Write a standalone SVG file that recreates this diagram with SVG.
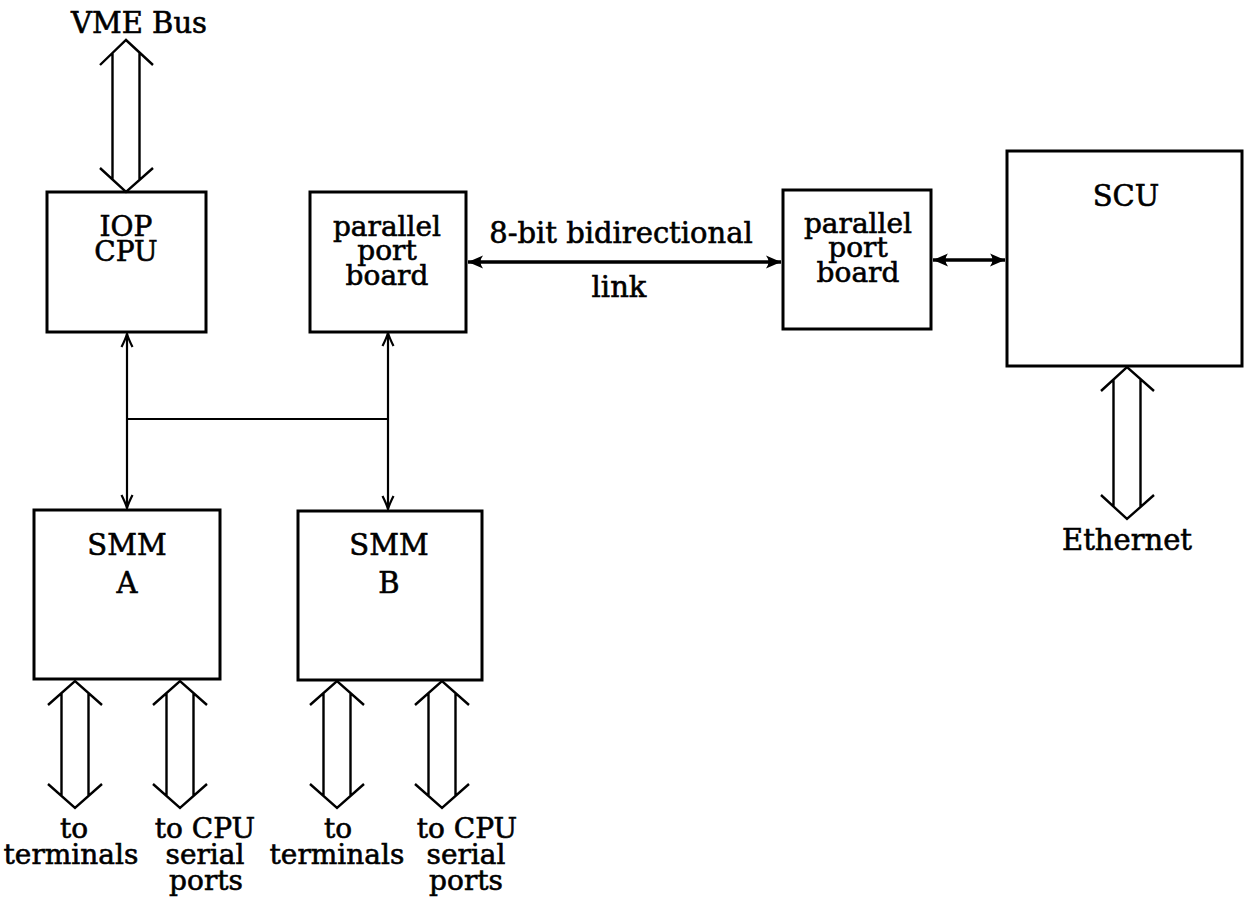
<svg xmlns="http://www.w3.org/2000/svg" width="1245" height="897" viewBox="0 0 1245 897">
<style>
text{font-family:"DejaVu Serif","Liberation Serif",serif;font-size:29px;fill:#000;stroke:#000;stroke-width:0.6;text-anchor:middle}
.sm{font-size:28px}
.box{fill:none;stroke:#000;stroke-width:3}
.fat{fill:none;stroke:#000;stroke-width:2.4;stroke-linejoin:miter}
.thin{fill:none;stroke:#000;stroke-width:2.2}
.thick{fill:none;stroke:#000;stroke-width:3.4}
</style>
<defs>
<marker id="v" viewBox="-14 -7 16 14" refX="0" refY="0" markerWidth="16" markerHeight="14" markerUnits="userSpaceOnUse" orient="auto-start-reverse">
<path d="M-13,-5.5 Q-5,-1.5 0,0 Q-5,1.5 -13,5.5" fill="none" stroke="#000" stroke-width="2.2"/>
</marker>
<marker id="b" viewBox="-16 -8 18 16" refX="0" refY="0" markerWidth="18" markerHeight="16" markerUnits="userSpaceOnUse" orient="auto-start-reverse">
<path d="M0,0 L-15,-6.5 Q-10,0 -15,6.5 Z" fill="#000"/>
</marker>
</defs>
<rect width="1245" height="897" fill="#fff"/>

<g id="connectors">
<path class="thin" d="M127,334 V508" marker-start="url(#v)" marker-end="url(#v)"/>
<path class="thin" d="M127,419 H388"/>
<path class="thin" d="M388,333 V509" marker-start="url(#v)" marker-end="url(#v)"/>
<path class="thick" d="M468,262 H781" marker-start="url(#b)" marker-end="url(#b)"/>
<path class="thick" d="M933,260 H1005" marker-start="url(#b)" marker-end="url(#b)"/>
<g id="fat-vme" class="fat"><path d="M100,65 L126,40 L153,65 M100,168 L126,192 L153,168 M112.5,52.5 V179.5 M139.5,52.5 V179.5"/></g>
<g id="fat-eth" class="fat"><path d="M1101,391 L1127,367 L1154,391 M1101,495 L1127,519 L1154,495 M1113.5,379.5 V506.5 M1140.5,379.5 V506.5"/></g>
<g id="fat-a1" class="fat"><path d="M48,705 L75,681 L102,705 M48,784 L75,808 L102,784 M61.5,693 V796 M88.5,693 V796"/></g>
<g id="fat-a2" class="fat"><path d="M153,705 L180,681 L207,705 M153,784 L180,808 L207,784 M166.5,693 V796 M193.5,693 V796"/></g>
<g id="fat-b1" class="fat"><path d="M310,705 L337,681 L364,705 M310,784 L337,808 L364,784 M323.5,693 V796 M350.5,693 V796"/></g>
<g id="fat-b2" class="fat"><path d="M415,705 L442,681 L469,705 M415,784 L442,808 L469,784 M428.5,693 V796 M455.5,693 V796"/></g>
</g>

<g id="vme-label"><text x="139" y="33">VME Bus</text></g>
<g id="iop"><rect class="box" x="47" y="192" width="159" height="140"/><text class="sm" x="126" y="236">IOP</text><text class="sm" x="126" y="261">CPU</text></g>
<g id="pp1"><rect class="box" x="310" y="192" width="156" height="140"/><text class="sm" x="387" y="236">parallel</text><text class="sm" x="387" y="260">port</text><text class="sm" x="387" y="285">board</text></g>
<g id="link-label"><text x="621" y="243">8-bit bidirectional</text><text x="619" y="297">link</text></g>
<g id="pp2"><rect class="box" x="783" y="190" width="148" height="139"/><text class="sm" x="858" y="233">parallel</text><text class="sm" x="858" y="257">port</text><text class="sm" x="858" y="282">board</text></g>
<g id="scu"><rect class="box" x="1007" y="151" width="235" height="215"/><text x="1126" y="206">SCU</text></g>
<g id="eth-label"><text x="1127" y="550">Ethernet</text></g>
<g id="smma"><rect class="box" x="34" y="510" width="186" height="169"/><text x="127" y="555">SMM</text><text x="127" y="593">A</text></g>
<g id="smmb"><rect class="box" x="298" y="511" width="184" height="169"/><text x="389" y="555">SMM</text><text x="389" y="593">B</text></g>
<g id="labels-a"><text class="sm" x="74" y="838">to</text><text class="sm" x="71" y="864">terminals</text><text class="sm" x="205" y="838">to CPU</text><text class="sm" x="205" y="864">serial</text><text class="sm" x="206" y="890">ports</text></g>
<g id="labels-b"><text class="sm" x="338" y="838">to</text><text class="sm" x="337" y="864">terminals</text><text class="sm" x="467" y="838">to CPU</text><text class="sm" x="466" y="864">serial</text><text class="sm" x="466" y="890">ports</text></g>
</svg>
